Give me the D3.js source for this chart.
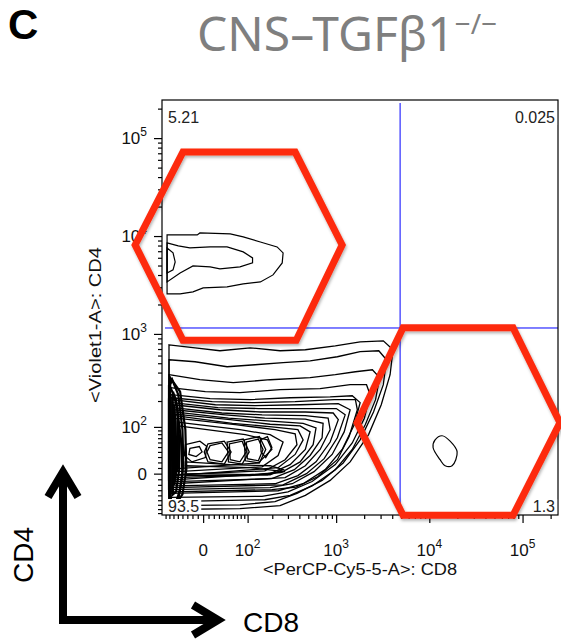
<!DOCTYPE html>
<html lang="en">
<head>
<meta charset="UTF-8">
<title>CNS-TGFb1 CD4 vs CD8</title>
<style>
  body { margin: 0; background: #fff; }
  svg { display: block; font-family: "Liberation Sans", Arial, sans-serif; }
</style>
</head>
<body>
<div id="chart"></div>
<script src="https://d3js.org/d3.v7.min.js"></script>
<script>
// axis ticks (fluorescence units)
const majorTicks = [0, 100, 1000, 10000, 100000];
const tickExponents = [null, 2, 3, 4, 5];
const xLabel = "<PerCP-Cy5-5-A>: CD8";
const yLabel = "<Violet1-A>: CD4";

// quadrant gate and the percentages (TL, TR, BL, BR)
const gateCD8 = 4860;
const gateCD4 = 1150;
const quadrantPct = ["5.21", "0.025", "93.5", "1.3"];

// red hexagon gates, [CD8, CD4]
const cd4Gate = [[-39, 72000], [360, 72000], [1160, 8115], [370, 860], [-39, 860], [-194, 8115]];
const cd8Gate = [[5230, 1155], [79100, 1155], [252000, 113], [79100, -86], [5230, -86], [1680, 113]];

// contour lines, [CD8, CD4] -- CD4+ population
const cd4Contours = [
  [[-76, 10260], [-11, 10260], [-6, 10760], [54, 10500], [87, 9800], [145, 8700], [227, 7740], [265, 6727],
   [259, 5315], [204, 4010], [145, 3402], [87, 3245], [47, 3026], [0, 2955], [-19, 2689], [-45, 2567], [-76, 2567]],
  [[-76, 8510], [-49, 7925], [-25, 7560], [13, 7740], [47, 7740], [87, 6885], [116, 5985], [116, 5315],
   [78, 4838], [32, 4616], [13, 4838], [-19, 4957], [-45, 4203], [-76, 3402]],
  [[-76, 7560], [-61, 6727], [-56, 5445], [-61, 4513], [-76, 4203]]
];

// double negative population
const dnContours = [
  [[-71, 774], [-15, 720], [32, 672], [108, 720], [245, 672], [465, 688], [980, 755], [1810, 830], [3210, 850],
   [4080, 688], [3795, 380], [3050, 182], [2230, 79], [1414, 21], [862, -12], [465, -40], [245, -62], [78, -69], [-71, -71]],
  [[-71, 543], [-15, 518], [47, 460], [125, 482], [265, 506], [524, 530], [1030, 583], [1810, 657], [2870, 672],
   [3470, 543], [3210, 299], [2520, 151], [1810, 66], [1190, 19], [706, -12], [377, -36], [215, -53], [78, -60], [-71, -62]],
  [[-71, 380], [-6, 337], [61, 314], [189, 337], [524, 354], [980, 380], [1610, 408], [2450, 428], [2930, 354],
   [2650, 207], [2060, 107], [1490, 45], [980, 7], [550, -22], [317, -40], [164, -49], [-71, -53]],
  [[-68, 278], [4, 252], [78, 246], [245, 265], [672, 271], [1414, 299], [2120, 299], [2318, 234], [2010, 128],
   [1490, 59], [980, 16], [550, -14], [300, -33], [152, -42], [-68, -44]],
  [[-66, 234], [13, 212], [108, 207], [317, 217], [862, 222], [1490, 228], [1810, 192], [1570, 107], [1160, 45],
   [762, 7], [440, -18], [233, -31], [-66, -36]],
  [[-66, 217], [17, 197], [116, 192], [360, 197], [955, 207], [1610, 207], [1690, 160], [1380, 74], [1030, 25],
   [638, -5], [369, -24], [198, -29], [-66, -33]],
  [[-63, 207], [23, 182], [125, 178], [408, 182], [1055, 187], [1414, 160], [1220, 86], [906, 35], [578, 3.5],
   [335, -18], [189, -25], [-63, -29]],
  [[-63, 192], [28, 169], [137, 165], [429, 165], [1005, 165], [1250, 140], [1030, 71], [743, 27], [478, 0],
   [265, -20], [-63, -25]],
  [[-61, 182], [32, 160], [145, 151], [465, 151], [930, 147], [1055, 123], [862, 61], [607, 21], [386, -3.5],
   [215, -18], [-61, -22]],
  [[-61, 169], [36, 147], [152, 140], [465, 137], [820, 128], [862, 92], [672, 45], [465, 14], [279, -7], [-61, -18]],
  [[-58, 160], [43, 140], [164, 128], [465, 125], [724, 111], [706, 71], [524, 33], [353, 7], [198, -9], [-58, -14]],
  [[-58, 151], [50, 128], [176, 119], [440, 111], [607, 97], [565, 55], [408, 21], [252, 2], [-58, -11]],
  [[-56, 143], [54, 123], [189, 108], [408, 103], [524, 86], [465, 45], [317, 16], [176, -2], [-56, -7]],
  [[-56, 137], [59, 111], [198, 100], [386, 92], [440, 66], [360, 35], [233, 10.5], [-56, -3.5]],
  [[-54, 128], [66, 107], [215, 92], [360, 81], [377, 55], [279, 25], [164, 5], [-54, -2]],
  [[-51, 115], [78, 92], [189, 79], [265, 61], [233, 33], [152, 12], [-51, 3.5]],
  [[-49, 103], [93, 79], [176, 66], [198, 45], [137, 19], [-49, 9]],
  [[-34, 21], [54, 16], [189, 14], [265, 7], [189, -2], [-34, 0]],
  [[-34, 14], [108, 10.5], [279, 3.5], [108, -3.5], [-34, -3.5]],
  // small peaks
  [[-34, 55], [-6, 63], [7, 51], [4, 29], [-21, 21], [-36, 33]],
  [[-25, 47], [-7, 51], [-2, 40], [-13, 31], [-27, 35]],
  [[9, 57], [41, 63], [56, 40], [41, 17], [9, 21], [2, 40]],
  [[13, 53], [36, 59], [50, 40], [36, 21], [13, 25], [7, 40]],
  [[47, 61], [87, 68], [105, 40], [84, 17], [50, 21]],
  [[52, 57], [84, 63], [96, 40], [78, 21], [54, 25]],
  [[90, 66], [141, 74], [168, 45], [141, 19], [93, 23]],
  [[96, 61], [137, 68], [156, 45], [137, 23], [99, 27]],
  [[145, 66], [176, 74], [198, 49], [168, 29], [148, 40]]
];

// dense wall of contours along the CD8-negative edge
const wallContours = [
  [[-68, 354], [-45, 252], [-34, 92], [-32, 7], [-40, -38], [-63, -71], [-71, -29], [-71, 207]],
  [[-71, 299], [-54, 207], [-43, 66], [-40, -2], [-49, -49], [-66, -66], [-71, -11], [-71, 123]],
  [[-63, 337], [-49, 234], [-40, 92], [-38, 16], [-45, -29], [-56, -60], [-66, -60], [-68, 7], [-68, 123], [-68, 299]],
  [[-61, 252], [-51, 160], [-47, 66], [-47, 7], [-54, -33], [-61, -38], [-63, 25], [-63, 123]],
  [[-58, 182], [-54, 66], [-54, -2], [-58, -20], [-61, 45]]
];

// CD8+ population
const cd8Contours = [
  [[11530, 66], [13710, 76], [16710, 63], [19870, 40], [17550, 14], [14760, 14], [13050, 25], [10970, 49]]
];

// layout
const W = 561, H = 640;
const frame = { left: 162, right: 558, top: 100, bottom: 515 };
const cofactor = 75;
const T = v => Math.asinh(v / cofactor);

const x = d3.scaleLinear().domain([T(-90), T(240000)]).range([frame.left, frame.right]);
const y = d3.scaleLinear().domain([T(-85), T(245000)]).range([frame.bottom, frame.top]);
const X = v => x(T(v));
const Y = v => y(T(v));

const minorTicks = d3.range(-80, 0, 10).concat(d3.range(10, 100, 10));
[100, 1000, 10000].forEach(d => d3.range(2, 10).forEach(m => minorTicks.push(d * m)));
minorTicks.push(200000);

const svg = d3.select("#chart").append("svg")
    .attr("width", W)
    .attr("height", H);

const defs = svg.append("defs");
defs.append("clipPath").attr("id", "plot-clip")
  .append("rect")
    .attr("x", frame.left).attr("y", frame.top)
    .attr("width", frame.right - frame.left).attr("height", frame.bottom - frame.top);
defs.append("filter").attr("id", "shadow")
    .attr("x", "-20%").attr("y", "-20%").attr("width", "140%").attr("height", "140%")
  .append("feDropShadow")
    .attr("dx", 1).attr("dy", 2).attr("stdDeviation", 1.5)
    .attr("flood-color", "#000").attr("flood-opacity", 0.3);

// panel letter
svg.append("text")
    .attr("x", 8).attr("y", 39)
    .attr("font-size", 42).attr("font-weight", "bold")
    .text("C");

// title
const title = svg.append("text")
    .attr("x", 197).attr("y", 51)
    .attr("fill", "#7f7f7f")
    .style("font-family", "'Noto Sans', 'Open Sans', sans-serif")
    .attr("font-size", 48);
title.append("tspan").text("CNS\u2013TGF\u03b21");
title.append("tspan").attr("font-size", 28).attr("dy", -17).text("\u2212/\u2212");

// contours
const line = d3.line().x(d => X(d[0])).y(d => Y(d[1])).curve(d3.curveLinearClosed);
const plot = svg.append("g").attr("clip-path", "url(#plot-clip)");

plot.selectAll("path.dn")
  .data(dnContours)
  .join("path")
    .attr("class", "dn")
    .attr("d", line)
    .attr("fill", "none")
    .attr("stroke", "#000")
    .attr("stroke-width", 1.3);

plot.selectAll("path.wall")
  .data(wallContours)
  .join("path")
    .attr("class", "wall")
    .attr("d", line)
    .attr("fill", "none")
    .attr("stroke", "#000")
    .attr("stroke-width", 2.2);

plot.selectAll("path.cd4")
  .data(cd4Contours)
  .join("path")
    .attr("class", "cd4")
    .attr("d", line)
    .attr("fill", "none")
    .attr("stroke", "#000")
    .attr("stroke-width", 1.2);

plot.selectAll("path.cd8")
  .data(cd8Contours)
  .join("path")
    .attr("class", "cd8")
    .attr("d", line.curve(d3.curveCatmullRomClosed))
    .attr("fill", "none")
    .attr("stroke", "#000")
    .attr("stroke-width", 1.2);

// quadrant lines
plot.append("line")
    .attr("x1", X(gateCD8)).attr("x2", X(gateCD8))
    .attr("y1", frame.top + 3).attr("y2", frame.bottom)
    .attr("stroke", "#0000ff").attr("stroke-width", 1);
plot.append("line")
    .attr("x1", frame.left + 3).attr("x2", frame.right)
    .attr("y1", Y(gateCD4)).attr("y2", Y(gateCD4))
    .attr("stroke", "#0000ff").attr("stroke-width", 1);

// frame
svg.append("rect")
    .attr("x", frame.left).attr("y", frame.top)
    .attr("width", frame.right - frame.left).attr("height", frame.bottom - frame.top)
    .attr("fill", "none").attr("stroke", "#000").attr("stroke-width", 1.2);

// axes: major and minor ticks
const xAxisMajor = d3.axisBottom(x).tickValues(majorTicks.map(T)).tickSize(8).tickFormat("");
const xAxisMinor = d3.axisBottom(x).tickValues(minorTicks.map(T)).tickSize(4).tickFormat("");
const yAxisMajor = d3.axisLeft(y).tickValues(majorTicks.map(T)).tickSize(8).tickFormat("");
const yAxisMinor = d3.axisLeft(y).tickValues(minorTicks.map(T)).tickSize(4).tickFormat("");

[xAxisMajor, xAxisMinor].forEach(a => {
  svg.append("g").attr("transform", `translate(0,${frame.bottom})`).call(a)
    .call(g => g.select(".domain").remove());
});
[yAxisMajor, yAxisMinor].forEach(a => {
  svg.append("g").attr("transform", `translate(${frame.left},0)`).call(a)
    .call(g => g.select(".domain").remove());
});
svg.selectAll(".tick line").attr("stroke", "#000").attr("stroke-width", 1.2);

// tick labels
majorTicks.forEach((v, i) => {
  const tx = svg.append("text")
      .attr("x", X(v)).attr("y", 556)
      .attr("text-anchor", "middle")
      .attr("font-size", 17).attr("fill", "#111");
  const ty = svg.append("text")
      .attr("x", 147).attr("y", Y(v) + 6)
      .attr("text-anchor", "end")
      .attr("font-size", 17).attr("fill", "#111");
  [tx, ty].forEach(t => {
    if (tickExponents[i] === null) {
      t.text("0");
    } else {
      t.append("tspan").text("10");
      t.append("tspan").attr("dy", -8).attr("font-size", 12).text(tickExponents[i]);
    }
  });
});

// axis titles
svg.append("text")
    .attr("x", 360).attr("y", 575)
    .attr("text-anchor", "middle")
    .attr("font-size", 17).attr("fill", "#111")
    .attr("textLength", 194).attr("lengthAdjust", "spacingAndGlyphs")
    .text(xLabel);
svg.append("text")
    .attr("transform", "translate(101,325) rotate(-90)")
    .attr("text-anchor", "middle")
    .attr("font-size", 17).attr("fill", "#111")
    .attr("textLength", 156).attr("lengthAdjust", "spacingAndGlyphs")
    .text(yLabel);

// quadrant percentages
const pctPos = [
  { x: frame.left + 6, y: frame.top + 23, anchor: "start" },
  { x: frame.right - 3, y: frame.top + 23, anchor: "end" },
  { x: frame.left + 6, y: frame.bottom - 3, anchor: "start" },
  { x: frame.right - 3, y: frame.bottom - 3, anchor: "end" }
];
quadrantPct.forEach((p, i) => {
  const t = svg.append("text")
      .attr("x", pctPos[i].x).attr("y", pctPos[i].y)
      .attr("text-anchor", pctPos[i].anchor)
      .attr("font-size", 16).attr("fill", "#222")
      .text(p);
  const b = t.node().getBBox();
  svg.insert("rect", () => t.node())
      .attr("x", b.x - 2).attr("y", b.y + 1)
      .attr("width", b.width + 4).attr("height", b.height - 2)
      .attr("fill", "#fff");
});

// red hexagon gates
const gateLine = d3.line().x(d => X(d[0])).y(d => Y(d[1])).curve(d3.curveLinearClosed);
svg.selectAll("path.gate")
  .data([cd4Gate, cd8Gate])
  .join("path")
    .attr("class", "gate")
    .attr("d", gateLine)
    .attr("fill", "none")
    .attr("stroke", "#fd2a0c")
    .attr("stroke-width", 7)
    .attr("stroke-linejoin", "miter")
    .attr("filter", "url(#shadow)");

// CD4 / CD8 orientation arrows
const arrows = svg.append("g")
    .attr("fill", "none").attr("stroke", "#000").attr("stroke-width", 8);
arrows.append("path").attr("d", "M63,472 L63,620 L218,620");
arrows.append("path").attr("d", "M48,497 L63,472 L78,497");
arrows.append("path").attr("d", "M193,605 L218,620 L193,635");

svg.append("text")
    .attr("transform", "translate(33,555) rotate(-90)")
    .attr("text-anchor", "middle")
    .attr("font-size", 28)
    .text("CD4");
svg.append("text")
    .attr("x", 243).attr("y", 632)
    .attr("font-size", 28)
    .text("CD8");
</script>
</body>
</html>
